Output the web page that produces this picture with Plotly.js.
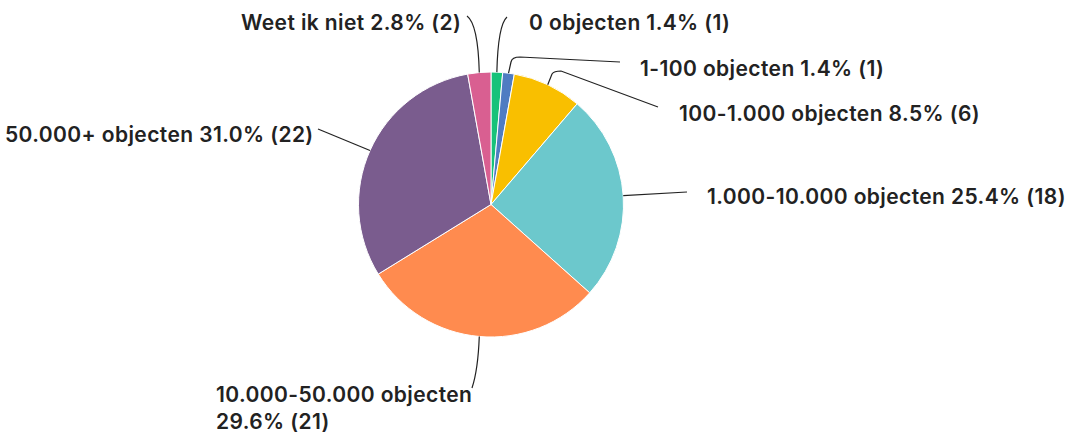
<!DOCTYPE html>
<html>
<head>
<meta charset="utf-8">
<script src="https://cdn.plot.ly/plotly-3.0.1.min.js"></script>
<style>html,body{margin:0;padding:0;background:#fff;}#chart{width:1067px;height:438px;}
.annotation-text{letter-spacing:0.4px;}</style>
</head>
<body>
<div id="chart"></div>
<script>
// ---- data ----
const categories = ["0 objecten", "1-100 objecten", "100-1.000 objecten", "1.000-10.000 objecten", "10.000-50.000 objecten", "50.000+ objecten", "Weet ik niet"];
const counts = [1, 1, 6, 18, 21, 22, 2];
const percentLabels = ["1.4%", "1.4%", "8.5%", "25.4%", "29.6%", "31.0%", "2.8%"];
const sliceColors = ["#17c27a", "#4f7cc2", "#f9bf00", "#6cc8cc", "#ff8b4f", "#7a5c8e", "#d95f91"];

// ---- layout constants (pixels) ----
const W = 1067, H = 438;
const cx = 491, cy = 204.5, R = 132.5;
const px = x => x / W;
const py = y => 1 - y / H;

const labelPos = [
  {x: 527, y: 22, anchor: "left"},
  {x: 638, y: 69, anchor: "left"},
  {x: 677, y: 113, anchor: "left"},
  {x: 705, y: 196, anchor: "left"},
  {x: 214, y: 408, anchor: "left", br: true},
  {x: 316, y: 134, anchor: "right"},
  {x: 463, y: 22, anchor: "right"}
];
const routes = [
  s => `Q 498 25 507 17`,
  s => `L 511 62 Q 512 57 520 57 L 620 62`,
  s => `L 552 74 Q 554 71 561 71 L 658 107`,
  s => `L 687 192`,
  s => `Q 478 370 472 388`,
  s => `L 318 129`,
  s => `Q 478 24 467 16`
];

const total = counts.reduce((a, b) => a + b, 0);
let cum = 0;
const shapes = [];
const annotations = [];
counts.forEach((v, i) => {
  const mid = (cum + v / 2) / total * 2 * Math.PI;
  cum += v;
  const sx = cx + R * Math.sin(mid), sy = cy - R * Math.cos(mid);
  const rel = routes[i]({x: sx, y: sy});
  const full = `M ${sx} ${sy} ` + rel;
  const toks = full.split(" ");
  const out = [];
  let isX = true;
  for (const t of toks) {
    if (/^[A-Z]$/.test(t)) { out.push(t); isX = true; continue; }
    const n = parseFloat(t);
    out.push(isX ? px(n).toFixed(5) : py(n).toFixed(5));
    isX = !isX;
  }
  shapes.push({type: "path", xref: "paper", yref: "paper", path: out.join(" "),
    line: {color: "#222222", width: 1.2}});
  const lp = labelPos[i];
  const txt = lp.br ? `${categories[i]}<br>${percentLabels[i]} (${v})` : `${categories[i]} ${percentLabels[i]} (${v})`;
  annotations.push({xref: "paper", yref: "paper", x: px(lp.x), y: py(lp.y),
    xanchor: lp.anchor, yanchor: "middle", align: "left", showarrow: false,
    text: txt, font: {family: "Inter, sans-serif", size: 21, color: "#222222", weight: 600}});
});

const trace = {
  type: "pie",
  labels: categories,
  values: counts,
  sort: false,
  direction: "clockwise",
  rotation: 0,
  marker: {colors: sliceColors, line: {color: "#ffffff", width: 1}},
  textinfo: "none",
  hoverinfo: "label+percent+value",
  domain: {x: [px(cx - R), px(cx + R)], y: [py(cy + R), py(cy - R)]}
};

Plotly.newPlot("chart", [trace], {
  width: W, height: H,
  margin: {l: 0, r: 0, t: 0, b: 0},
  showlegend: false,
  paper_bgcolor: "#ffffff",
  shapes: shapes,
  annotations: annotations
}, {displayModeBar: false, staticPlot: true});
</script>
</body>
</html>
